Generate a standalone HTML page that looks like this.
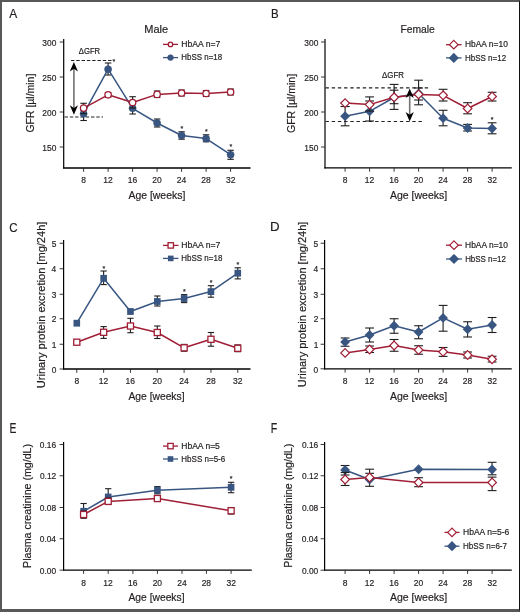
<!DOCTYPE html>
<html><head><meta charset="utf-8"><style>
html,body{margin:0;padding:0;background:#fff;}
body{width:520px;height:612px;overflow:hidden;position:relative;}
.fr{position:absolute;left:0;top:0;width:520px;height:612px;box-sizing:border-box;border-left:2px solid #585858;border-top:2px solid #585858;border-bottom:3px solid #585858;border-right:1px solid #111;}
svg{position:absolute;left:0;top:0;}
text{font-family:"Liberation Sans", sans-serif;fill:#231f20;stroke:#231f20;stroke-width:0.2px;}
svg{will-change:transform;}
</style></head><body>
<svg width="520" height="612" viewBox="0 0 520 612">
<text x="9.17" y="17.80" font-size="13.09" textLength="7.95" lengthAdjust="spacingAndGlyphs">A</text>
<text x="144.29" y="32.80" font-size="11.35" textLength="23.88" lengthAdjust="spacingAndGlyphs">Male</text>
<line x1="63.7" y1="39" x2="63.7" y2="168.6" stroke="#000" stroke-width="1.2"/>
<line x1="63.1" y1="168.0" x2="250.5" y2="168.0" stroke="#000" stroke-width="1.3"/>
<line x1="59.7" y1="42" x2="63.7" y2="42" stroke="#222" stroke-width="0.9"/>
<text x="42.33" y="45.70" font-size="9.75" textLength="13.99" lengthAdjust="spacingAndGlyphs">300</text>
<line x1="59.7" y1="77" x2="63.7" y2="77" stroke="#222" stroke-width="0.9"/>
<text x="42.33" y="80.70" font-size="9.75" textLength="13.99" lengthAdjust="spacingAndGlyphs">250</text>
<line x1="59.7" y1="112" x2="63.7" y2="112" stroke="#222" stroke-width="0.9"/>
<text x="42.33" y="115.70" font-size="9.75" textLength="13.99" lengthAdjust="spacingAndGlyphs">200</text>
<line x1="59.7" y1="147" x2="63.7" y2="147" stroke="#222" stroke-width="0.9"/>
<text x="42.33" y="150.70" font-size="9.75" textLength="13.99" lengthAdjust="spacingAndGlyphs">150</text>
<line x1="83.6" y1="168.0" x2="83.6" y2="171.8" stroke="#222" stroke-width="0.9"/>
<text x="81.24" y="183.30" font-size="9.89" textLength="4.73" lengthAdjust="spacingAndGlyphs">8</text>
<line x1="108.1" y1="168.0" x2="108.1" y2="171.8" stroke="#222" stroke-width="0.9"/>
<text x="103.27" y="183.30" font-size="9.89" textLength="9.46" lengthAdjust="spacingAndGlyphs">12</text>
<line x1="132.6" y1="168.0" x2="132.6" y2="171.8" stroke="#222" stroke-width="0.9"/>
<text x="127.74" y="183.30" font-size="9.89" textLength="9.46" lengthAdjust="spacingAndGlyphs">16</text>
<line x1="157.1" y1="168.0" x2="157.1" y2="171.8" stroke="#222" stroke-width="0.9"/>
<text x="152.33" y="183.30" font-size="9.89" textLength="9.46" lengthAdjust="spacingAndGlyphs">20</text>
<line x1="181.6" y1="168.0" x2="181.6" y2="171.8" stroke="#222" stroke-width="0.9"/>
<text x="176.78" y="183.30" font-size="9.89" textLength="9.46" lengthAdjust="spacingAndGlyphs">24</text>
<line x1="206.1" y1="168.0" x2="206.1" y2="171.8" stroke="#222" stroke-width="0.9"/>
<text x="201.35" y="183.30" font-size="9.89" textLength="9.46" lengthAdjust="spacingAndGlyphs">28</text>
<line x1="230.6" y1="168.0" x2="230.6" y2="171.8" stroke="#222" stroke-width="0.9"/>
<text x="225.93" y="183.30" font-size="9.89" textLength="9.46" lengthAdjust="spacingAndGlyphs">32</text>
<text x="128.47" y="198.90" font-size="11.20" textLength="56.86" lengthAdjust="spacingAndGlyphs">Age [weeks]</text>
<text x="0" y="0" transform="translate(33.90,132.52) rotate(-90)" font-size="11.35" textLength="58.85" lengthAdjust="spacingAndGlyphs">GFR [µl/min]</text>
<text x="78.77" y="54.10" font-size="8.44" textLength="21.39" lengthAdjust="spacingAndGlyphs">ΔGFR</text>
<line x1="71" y1="60.5" x2="113" y2="60.5" stroke="#222" stroke-width="1.1" stroke-dasharray="3.4 1.9"/>
<line x1="64.5" y1="117" x2="103" y2="117" stroke="#222" stroke-width="1.1" stroke-dasharray="3.4 1.9"/>
<text x="113.8" y="63.849999999999994" font-size="7" text-anchor="middle">*</text>
<line x1="73.9" y1="67.9" x2="73.9" y2="108.8" stroke="#727272" stroke-width="1.6"/>
<polygon points="73.9,61.9 78.0,71.4 73.9,68.7 69.80000000000001,71.4" fill="#000"/>
<polygon points="73.9,114.8 78.0,105.3 73.9,108.0 69.80000000000001,105.3" fill="#000"/>
<line x1="83.6" y1="110" x2="83.6" y2="120.5" stroke="#1e1e1e" stroke-width="1.1"/>
<line x1="80.35" y1="110" x2="86.85" y2="110" stroke="#1e1e1e" stroke-width="1.1"/>
<line x1="80.35" y1="120.5" x2="86.85" y2="120.5" stroke="#1e1e1e" stroke-width="1.1"/>
<line x1="108.1" y1="63" x2="108.1" y2="75" stroke="#1e1e1e" stroke-width="1.1"/>
<line x1="104.85" y1="63" x2="111.35" y2="63" stroke="#1e1e1e" stroke-width="1.1"/>
<line x1="104.85" y1="75" x2="111.35" y2="75" stroke="#1e1e1e" stroke-width="1.1"/>
<line x1="132.6" y1="102" x2="132.6" y2="114" stroke="#1e1e1e" stroke-width="1.1"/>
<line x1="129.35" y1="102" x2="135.85" y2="102" stroke="#1e1e1e" stroke-width="1.1"/>
<line x1="129.35" y1="114" x2="135.85" y2="114" stroke="#1e1e1e" stroke-width="1.1"/>
<line x1="157.1" y1="119" x2="157.1" y2="127" stroke="#1e1e1e" stroke-width="1.1"/>
<line x1="153.85" y1="119" x2="160.35" y2="119" stroke="#1e1e1e" stroke-width="1.1"/>
<line x1="153.85" y1="127" x2="160.35" y2="127" stroke="#1e1e1e" stroke-width="1.1"/>
<line x1="181.6" y1="131.8" x2="181.6" y2="139.2" stroke="#1e1e1e" stroke-width="1.1"/>
<line x1="178.35" y1="131.8" x2="184.85" y2="131.8" stroke="#1e1e1e" stroke-width="1.1"/>
<line x1="178.35" y1="139.2" x2="184.85" y2="139.2" stroke="#1e1e1e" stroke-width="1.1"/>
<line x1="206.1" y1="134.8" x2="206.1" y2="141.8" stroke="#1e1e1e" stroke-width="1.1"/>
<line x1="202.85" y1="134.8" x2="209.35" y2="134.8" stroke="#1e1e1e" stroke-width="1.1"/>
<line x1="202.85" y1="141.8" x2="209.35" y2="141.8" stroke="#1e1e1e" stroke-width="1.1"/>
<line x1="230.6" y1="150.3" x2="230.6" y2="159.3" stroke="#1e1e1e" stroke-width="1.1"/>
<line x1="227.35" y1="150.3" x2="233.85" y2="150.3" stroke="#1e1e1e" stroke-width="1.1"/>
<line x1="227.35" y1="159.3" x2="233.85" y2="159.3" stroke="#1e1e1e" stroke-width="1.1"/>
<polyline points="83.6,113.8 108.1,69.2 132.6,108.3 157.1,123 181.6,135.5 206.1,138.6 230.6,154.7" fill="none" stroke="#385681" stroke-width="1.5" stroke-linejoin="round"/>
<circle cx="83.6" cy="113.8" r="3.55" fill="#385681" stroke="#304a72" stroke-width="0.5"/>
<circle cx="108.1" cy="69.2" r="3.55" fill="#385681" stroke="#304a72" stroke-width="0.5"/>
<circle cx="132.6" cy="108.3" r="3.55" fill="#385681" stroke="#304a72" stroke-width="0.5"/>
<circle cx="157.1" cy="123" r="3.55" fill="#385681" stroke="#304a72" stroke-width="0.5"/>
<circle cx="181.6" cy="135.5" r="3.55" fill="#385681" stroke="#304a72" stroke-width="0.5"/>
<circle cx="206.1" cy="138.6" r="3.55" fill="#385681" stroke="#304a72" stroke-width="0.5"/>
<circle cx="230.6" cy="154.7" r="3.55" fill="#385681" stroke="#304a72" stroke-width="0.5"/>
<line x1="83.6" y1="103.3" x2="83.6" y2="113.6" stroke="#1e1e1e" stroke-width="1.1"/>
<line x1="80.35" y1="103.3" x2="86.85" y2="103.3" stroke="#1e1e1e" stroke-width="1.1"/>
<line x1="80.35" y1="113.6" x2="86.85" y2="113.6" stroke="#1e1e1e" stroke-width="1.1"/>
<line x1="108.1" y1="92.5" x2="108.1" y2="97" stroke="#1e1e1e" stroke-width="1.1"/>
<line x1="104.85" y1="92.5" x2="111.35" y2="92.5" stroke="#1e1e1e" stroke-width="1.1"/>
<line x1="104.85" y1="97" x2="111.35" y2="97" stroke="#1e1e1e" stroke-width="1.1"/>
<line x1="132.6" y1="96.7" x2="132.6" y2="108" stroke="#1e1e1e" stroke-width="1.1"/>
<line x1="129.35" y1="96.7" x2="135.85" y2="96.7" stroke="#1e1e1e" stroke-width="1.1"/>
<line x1="129.35" y1="108" x2="135.85" y2="108" stroke="#1e1e1e" stroke-width="1.1"/>
<line x1="157.1" y1="91" x2="157.1" y2="97.5" stroke="#1e1e1e" stroke-width="1.1"/>
<line x1="153.85" y1="91" x2="160.35" y2="91" stroke="#1e1e1e" stroke-width="1.1"/>
<line x1="153.85" y1="97.5" x2="160.35" y2="97.5" stroke="#1e1e1e" stroke-width="1.1"/>
<line x1="181.6" y1="90" x2="181.6" y2="96" stroke="#1e1e1e" stroke-width="1.1"/>
<line x1="178.35" y1="90" x2="184.85" y2="90" stroke="#1e1e1e" stroke-width="1.1"/>
<line x1="178.35" y1="96" x2="184.85" y2="96" stroke="#1e1e1e" stroke-width="1.1"/>
<line x1="206.1" y1="90.5" x2="206.1" y2="96.5" stroke="#1e1e1e" stroke-width="1.1"/>
<line x1="202.85" y1="90.5" x2="209.35" y2="90.5" stroke="#1e1e1e" stroke-width="1.1"/>
<line x1="202.85" y1="96.5" x2="209.35" y2="96.5" stroke="#1e1e1e" stroke-width="1.1"/>
<line x1="230.6" y1="89" x2="230.6" y2="95" stroke="#1e1e1e" stroke-width="1.1"/>
<line x1="227.35" y1="89" x2="233.85" y2="89" stroke="#1e1e1e" stroke-width="1.1"/>
<line x1="227.35" y1="95" x2="233.85" y2="95" stroke="#1e1e1e" stroke-width="1.1"/>
<polyline points="83.6,108.1 108.1,94.8 132.6,102.5 157.1,94.4 181.6,93 206.1,93.5 230.6,92" fill="none" stroke="#a01f36" stroke-width="1.5" stroke-linejoin="round"/>
<circle cx="83.6" cy="108.1" r="3.2" fill="#fff" stroke="#a01f36" stroke-width="1.3"/>
<circle cx="108.1" cy="94.8" r="3.2" fill="#fff" stroke="#a01f36" stroke-width="1.3"/>
<circle cx="132.6" cy="102.5" r="3.2" fill="#fff" stroke="#a01f36" stroke-width="1.3"/>
<circle cx="157.1" cy="94.4" r="3.2" fill="#fff" stroke="#a01f36" stroke-width="1.3"/>
<circle cx="181.6" cy="93" r="3.2" fill="#fff" stroke="#a01f36" stroke-width="1.3"/>
<circle cx="206.1" cy="93.5" r="3.2" fill="#fff" stroke="#a01f36" stroke-width="1.3"/>
<circle cx="230.6" cy="92" r="3.2" fill="#fff" stroke="#a01f36" stroke-width="1.3"/>
<text x="181.8" y="130.95000000000002" font-size="7" text-anchor="middle">*</text>
<text x="206.3" y="133.55" font-size="7" text-anchor="middle">*</text>
<text x="230.8" y="149.35000000000002" font-size="7" text-anchor="middle">*</text>
<line x1="163" y1="44.4" x2="178" y2="44.4" stroke="#a01f36" stroke-width="1.3"/>
<circle cx="170.5" cy="44.4" r="2.2" fill="#fff" stroke="#a01f36" stroke-width="1.3"/>
<line x1="163" y1="57.6" x2="178" y2="57.6" stroke="#385681" stroke-width="1.3"/>
<circle cx="170.5" cy="57.6" r="2.9" fill="#385681" stroke="#304a72" stroke-width="0.5"/>
<text x="181.29" y="46.80" font-size="8.73" textLength="38.95" lengthAdjust="spacingAndGlyphs">HbAA n=7</text>
<text x="181.35" y="59.60" font-size="8.73" textLength="40.74" lengthAdjust="spacingAndGlyphs">HbSS n=18</text>
<text x="270.95" y="17.80" font-size="13.09" textLength="7.64" lengthAdjust="spacingAndGlyphs">B</text>
<text x="400.40" y="33.00" font-size="11.64" textLength="34.46" lengthAdjust="spacingAndGlyphs">Female</text>
<line x1="325" y1="39" x2="325" y2="168.5" stroke="#000" stroke-width="1.2"/>
<line x1="324.4" y1="167.9" x2="511.75" y2="167.9" stroke="#000" stroke-width="1.3"/>
<line x1="321" y1="42" x2="325" y2="42" stroke="#222" stroke-width="0.9"/>
<text x="304.33" y="45.70" font-size="9.75" textLength="13.99" lengthAdjust="spacingAndGlyphs">300</text>
<line x1="321" y1="77" x2="325" y2="77" stroke="#222" stroke-width="0.9"/>
<text x="304.33" y="80.70" font-size="9.75" textLength="13.99" lengthAdjust="spacingAndGlyphs">250</text>
<line x1="321" y1="112" x2="325" y2="112" stroke="#222" stroke-width="0.9"/>
<text x="304.33" y="115.70" font-size="9.75" textLength="13.99" lengthAdjust="spacingAndGlyphs">200</text>
<line x1="321" y1="147" x2="325" y2="147" stroke="#222" stroke-width="0.9"/>
<text x="304.33" y="150.70" font-size="9.75" textLength="13.99" lengthAdjust="spacingAndGlyphs">150</text>
<line x1="345.1" y1="167.9" x2="345.1" y2="171.70000000000002" stroke="#222" stroke-width="0.9"/>
<text x="342.74" y="183.30" font-size="9.89" textLength="4.73" lengthAdjust="spacingAndGlyphs">8</text>
<line x1="369.6" y1="167.9" x2="369.6" y2="171.70000000000002" stroke="#222" stroke-width="0.9"/>
<text x="364.77" y="183.30" font-size="9.89" textLength="9.46" lengthAdjust="spacingAndGlyphs">12</text>
<line x1="394.1" y1="167.9" x2="394.1" y2="171.70000000000002" stroke="#222" stroke-width="0.9"/>
<text x="389.24" y="183.30" font-size="9.89" textLength="9.46" lengthAdjust="spacingAndGlyphs">16</text>
<line x1="418.6" y1="167.9" x2="418.6" y2="171.70000000000002" stroke="#222" stroke-width="0.9"/>
<text x="413.83" y="183.30" font-size="9.89" textLength="9.46" lengthAdjust="spacingAndGlyphs">20</text>
<line x1="443.1" y1="167.9" x2="443.1" y2="171.70000000000002" stroke="#222" stroke-width="0.9"/>
<text x="438.28" y="183.30" font-size="9.89" textLength="9.46" lengthAdjust="spacingAndGlyphs">24</text>
<line x1="467.6" y1="167.9" x2="467.6" y2="171.70000000000002" stroke="#222" stroke-width="0.9"/>
<text x="462.85" y="183.30" font-size="9.89" textLength="9.46" lengthAdjust="spacingAndGlyphs">28</text>
<line x1="492.1" y1="167.9" x2="492.1" y2="171.70000000000002" stroke="#222" stroke-width="0.9"/>
<text x="487.43" y="183.30" font-size="9.89" textLength="9.46" lengthAdjust="spacingAndGlyphs">32</text>
<text x="389.97" y="199.20" font-size="11.20" textLength="57.26" lengthAdjust="spacingAndGlyphs">Age [weeks]</text>
<text x="0" y="0" transform="translate(294.60,133.03) rotate(-90)" font-size="11.78" textLength="59.16" lengthAdjust="spacingAndGlyphs">GFR [µl/min]</text>
<text x="382.06" y="78.00" font-size="8.29" textLength="21.80" lengthAdjust="spacingAndGlyphs">ΔGFR</text>
<line x1="325.5" y1="87.9" x2="429.5" y2="87.9" stroke="#222" stroke-width="1.1" stroke-dasharray="3.4 2.8"/>
<line x1="325.5" y1="121.5" x2="423" y2="121.5" stroke="#222" stroke-width="1.1" stroke-dasharray="3.4 2.8"/>
<line x1="345.1" y1="106.5" x2="345.1" y2="125.8" stroke="#1e1e1e" stroke-width="1.1"/>
<line x1="340.70000000000005" y1="106.5" x2="349.5" y2="106.5" stroke="#1e1e1e" stroke-width="1.1"/>
<line x1="340.70000000000005" y1="125.8" x2="349.5" y2="125.8" stroke="#1e1e1e" stroke-width="1.1"/>
<line x1="369.6" y1="101" x2="369.6" y2="121" stroke="#1e1e1e" stroke-width="1.1"/>
<line x1="365.20000000000005" y1="101" x2="374.0" y2="101" stroke="#1e1e1e" stroke-width="1.1"/>
<line x1="365.20000000000005" y1="121" x2="374.0" y2="121" stroke="#1e1e1e" stroke-width="1.1"/>
<line x1="394.1" y1="84.4" x2="394.1" y2="109.4" stroke="#1e1e1e" stroke-width="1.1"/>
<line x1="389.70000000000005" y1="84.4" x2="398.5" y2="84.4" stroke="#1e1e1e" stroke-width="1.1"/>
<line x1="389.70000000000005" y1="109.4" x2="398.5" y2="109.4" stroke="#1e1e1e" stroke-width="1.1"/>
<line x1="418.6" y1="80.2" x2="418.6" y2="104.8" stroke="#1e1e1e" stroke-width="1.1"/>
<line x1="414.20000000000005" y1="80.2" x2="423.0" y2="80.2" stroke="#1e1e1e" stroke-width="1.1"/>
<line x1="414.20000000000005" y1="104.8" x2="423.0" y2="104.8" stroke="#1e1e1e" stroke-width="1.1"/>
<line x1="443.1" y1="110.3" x2="443.1" y2="125.8" stroke="#1e1e1e" stroke-width="1.1"/>
<line x1="438.70000000000005" y1="110.3" x2="447.5" y2="110.3" stroke="#1e1e1e" stroke-width="1.1"/>
<line x1="438.70000000000005" y1="125.8" x2="447.5" y2="125.8" stroke="#1e1e1e" stroke-width="1.1"/>
<line x1="467.6" y1="124.4" x2="467.6" y2="131" stroke="#1e1e1e" stroke-width="1.1"/>
<line x1="463.20000000000005" y1="124.4" x2="472.0" y2="124.4" stroke="#1e1e1e" stroke-width="1.1"/>
<line x1="463.20000000000005" y1="131" x2="472.0" y2="131" stroke="#1e1e1e" stroke-width="1.1"/>
<line x1="492.1" y1="122.8" x2="492.1" y2="133.8" stroke="#1e1e1e" stroke-width="1.1"/>
<line x1="487.70000000000005" y1="122.8" x2="496.5" y2="122.8" stroke="#1e1e1e" stroke-width="1.1"/>
<line x1="487.70000000000005" y1="133.8" x2="496.5" y2="133.8" stroke="#1e1e1e" stroke-width="1.1"/>
<polyline points="345.1,116.2 369.6,111.3 394.1,97.5 418.6,93.5 443.1,118.2 467.6,128 492.1,128.5" fill="none" stroke="#385681" stroke-width="1.5" stroke-linejoin="round"/>
<polygon points="345.1,111.3 350.0,116.2 345.1,121.10000000000001 340.20000000000005,116.2" fill="#385681"/>
<polygon points="369.6,106.39999999999999 374.5,111.3 369.6,116.2 364.70000000000005,111.3" fill="#385681"/>
<polygon points="394.1,92.6 399.0,97.5 394.1,102.4 389.20000000000005,97.5" fill="#385681"/>
<polygon points="418.6,88.6 423.5,93.5 418.6,98.4 413.70000000000005,93.5" fill="#385681"/>
<polygon points="443.1,113.3 448.0,118.2 443.1,123.10000000000001 438.20000000000005,118.2" fill="#385681"/>
<polygon points="467.6,123.1 472.5,128 467.6,132.9 462.70000000000005,128" fill="#385681"/>
<polygon points="492.1,123.6 497.0,128.5 492.1,133.4 487.20000000000005,128.5" fill="#385681"/>
<line x1="345.1" y1="103.1" x2="345.1" y2="106.5" stroke="#1e1e1e" stroke-width="1.1"/>
<line x1="340.70000000000005" y1="103.1" x2="349.5" y2="103.1" stroke="#1e1e1e" stroke-width="1.1"/>
<line x1="340.70000000000005" y1="106.5" x2="349.5" y2="106.5" stroke="#1e1e1e" stroke-width="1.1"/>
<line x1="369.6" y1="96.9" x2="369.6" y2="111" stroke="#1e1e1e" stroke-width="1.1"/>
<line x1="365.20000000000005" y1="96.9" x2="374.0" y2="96.9" stroke="#1e1e1e" stroke-width="1.1"/>
<line x1="365.20000000000005" y1="111" x2="374.0" y2="111" stroke="#1e1e1e" stroke-width="1.1"/>
<line x1="394.1" y1="90.2" x2="394.1" y2="103.7" stroke="#1e1e1e" stroke-width="1.1"/>
<line x1="389.70000000000005" y1="90.2" x2="398.5" y2="90.2" stroke="#1e1e1e" stroke-width="1.1"/>
<line x1="389.70000000000005" y1="103.7" x2="398.5" y2="103.7" stroke="#1e1e1e" stroke-width="1.1"/>
<line x1="418.6" y1="88" x2="418.6" y2="100" stroke="#1e1e1e" stroke-width="1.1"/>
<line x1="414.20000000000005" y1="88" x2="423.0" y2="88" stroke="#1e1e1e" stroke-width="1.1"/>
<line x1="414.20000000000005" y1="100" x2="423.0" y2="100" stroke="#1e1e1e" stroke-width="1.1"/>
<line x1="443.1" y1="89.3" x2="443.1" y2="101" stroke="#1e1e1e" stroke-width="1.1"/>
<line x1="438.70000000000005" y1="89.3" x2="447.5" y2="89.3" stroke="#1e1e1e" stroke-width="1.1"/>
<line x1="438.70000000000005" y1="101" x2="447.5" y2="101" stroke="#1e1e1e" stroke-width="1.1"/>
<line x1="467.6" y1="102.7" x2="467.6" y2="113.8" stroke="#1e1e1e" stroke-width="1.1"/>
<line x1="463.20000000000005" y1="102.7" x2="472.0" y2="102.7" stroke="#1e1e1e" stroke-width="1.1"/>
<line x1="463.20000000000005" y1="113.8" x2="472.0" y2="113.8" stroke="#1e1e1e" stroke-width="1.1"/>
<line x1="492.1" y1="92.3" x2="492.1" y2="101" stroke="#1e1e1e" stroke-width="1.1"/>
<line x1="487.70000000000005" y1="92.3" x2="496.5" y2="92.3" stroke="#1e1e1e" stroke-width="1.1"/>
<line x1="487.70000000000005" y1="101" x2="496.5" y2="101" stroke="#1e1e1e" stroke-width="1.1"/>
<polyline points="345.1,103.1 369.6,104.6 394.1,97.3 418.6,94.4 443.1,95.3 467.6,108.5 492.1,96.5" fill="none" stroke="#a01f36" stroke-width="1.5" stroke-linejoin="round"/>
<polygon points="345.1,98.8 349.40000000000003,103.1 345.1,107.39999999999999 340.8,103.1" fill="#fff" stroke="#a01f36" stroke-width="1.2"/>
<polygon points="369.6,100.3 373.90000000000003,104.6 369.6,108.89999999999999 365.3,104.6" fill="#fff" stroke="#a01f36" stroke-width="1.2"/>
<polygon points="394.1,93.0 398.40000000000003,97.3 394.1,101.6 389.8,97.3" fill="#fff" stroke="#a01f36" stroke-width="1.2"/>
<polygon points="418.6,90.10000000000001 422.90000000000003,94.4 418.6,98.7 414.3,94.4" fill="#fff" stroke="#a01f36" stroke-width="1.2"/>
<polygon points="443.1,91.0 447.40000000000003,95.3 443.1,99.6 438.8,95.3" fill="#fff" stroke="#a01f36" stroke-width="1.2"/>
<polygon points="467.6,104.2 471.90000000000003,108.5 467.6,112.8 463.3,108.5" fill="#fff" stroke="#a01f36" stroke-width="1.2"/>
<polygon points="492.1,92.2 496.40000000000003,96.5 492.1,100.8 487.8,96.5" fill="#fff" stroke="#a01f36" stroke-width="1.2"/>
<line x1="409.7" y1="94.5" x2="409.7" y2="115.5" stroke="#727272" stroke-width="1.6"/>
<polygon points="409.7,88.5 413.8,98.0 409.7,95.3 405.59999999999997,98.0" fill="#000"/>
<polygon points="409.7,121.5 413.8,112.0 409.7,114.7 405.59999999999997,112.0" fill="#000"/>
<text x="492" y="121.55" font-size="7" text-anchor="middle">*</text>
<line x1="446" y1="44.7" x2="461.6" y2="44.7" stroke="#a01f36" stroke-width="1.3"/>
<polygon points="453.8,40.400000000000006 458.1,44.7 453.8,49.0 449.5,44.7" fill="#fff" stroke="#a01f36" stroke-width="1.2"/>
<line x1="446" y1="57.9" x2="461.6" y2="57.9" stroke="#385681" stroke-width="1.3"/>
<polygon points="453.8,52.8 458.90000000000003,57.9 453.8,63.0 448.7,57.9" fill="#385681"/>
<text x="465.01" y="47.30" font-size="8.73" textLength="42.81" lengthAdjust="spacingAndGlyphs">HbAA n=10</text>
<text x="465.04" y="60.50" font-size="8.73" textLength="41.06" lengthAdjust="spacingAndGlyphs">HbSS n=12</text>
<text x="9.23" y="231.60" font-size="13.67" textLength="8.30" lengthAdjust="spacingAndGlyphs">C</text>
<line x1="63.6" y1="240" x2="63.6" y2="369.6" stroke="#000" stroke-width="1.2"/>
<line x1="63.0" y1="369" x2="250.5" y2="369" stroke="#000" stroke-width="1.3"/>
<line x1="59.6" y1="243.25" x2="63.6" y2="243.25" stroke="#222" stroke-width="0.9"/>
<text x="51.68" y="246.95" font-size="9.75" textLength="4.66" lengthAdjust="spacingAndGlyphs">5</text>
<line x1="59.6" y1="268.75" x2="63.6" y2="268.75" stroke="#222" stroke-width="0.9"/>
<text x="51.58" y="272.45" font-size="9.75" textLength="4.66" lengthAdjust="spacingAndGlyphs">4</text>
<line x1="59.6" y1="294.25" x2="63.6" y2="294.25" stroke="#222" stroke-width="0.9"/>
<text x="51.70" y="297.95" font-size="9.75" textLength="4.66" lengthAdjust="spacingAndGlyphs">3</text>
<line x1="59.6" y1="318.75" x2="63.6" y2="318.75" stroke="#222" stroke-width="0.9"/>
<text x="51.77" y="322.45" font-size="9.75" textLength="4.66" lengthAdjust="spacingAndGlyphs">2</text>
<line x1="59.6" y1="344.25" x2="63.6" y2="344.25" stroke="#222" stroke-width="0.9"/>
<text x="51.75" y="347.95" font-size="9.75" textLength="4.66" lengthAdjust="spacingAndGlyphs">1</text>
<line x1="59.6" y1="369" x2="63.6" y2="369" stroke="#222" stroke-width="0.9"/>
<text x="51.66" y="372.70" font-size="9.75" textLength="4.66" lengthAdjust="spacingAndGlyphs">0</text>
<line x1="76.8" y1="369" x2="76.8" y2="372.8" stroke="#222" stroke-width="0.9"/>
<text x="74.44" y="384.30" font-size="9.89" textLength="4.73" lengthAdjust="spacingAndGlyphs">8</text>
<line x1="103.63" y1="369" x2="103.63" y2="372.8" stroke="#222" stroke-width="0.9"/>
<text x="98.80" y="384.30" font-size="9.89" textLength="9.46" lengthAdjust="spacingAndGlyphs">12</text>
<line x1="130.46" y1="369" x2="130.46" y2="372.8" stroke="#222" stroke-width="0.9"/>
<text x="125.60" y="384.30" font-size="9.89" textLength="9.46" lengthAdjust="spacingAndGlyphs">16</text>
<line x1="157.29" y1="369" x2="157.29" y2="372.8" stroke="#222" stroke-width="0.9"/>
<text x="152.52" y="384.30" font-size="9.89" textLength="9.46" lengthAdjust="spacingAndGlyphs">20</text>
<line x1="184.12" y1="369" x2="184.12" y2="372.8" stroke="#222" stroke-width="0.9"/>
<text x="179.30" y="384.30" font-size="9.89" textLength="9.46" lengthAdjust="spacingAndGlyphs">24</text>
<line x1="210.95" y1="369" x2="210.95" y2="372.8" stroke="#222" stroke-width="0.9"/>
<text x="206.20" y="384.30" font-size="9.89" textLength="9.46" lengthAdjust="spacingAndGlyphs">28</text>
<line x1="237.78" y1="369" x2="237.78" y2="372.8" stroke="#222" stroke-width="0.9"/>
<text x="233.11" y="384.30" font-size="9.89" textLength="9.46" lengthAdjust="spacingAndGlyphs">32</text>
<text x="128.47" y="399.60" font-size="11.20" textLength="56.05" lengthAdjust="spacingAndGlyphs">Age [weeks]</text>
<text x="0" y="0" transform="translate(44.60,388.16) rotate(-90)" font-size="11.49" textLength="166.54" lengthAdjust="spacingAndGlyphs">Urinary protein excretion [mg/24h]</text>
<line x1="103.63" y1="271" x2="103.63" y2="284.6" stroke="#1e1e1e" stroke-width="1.1"/>
<line x1="100.47999999999999" y1="271" x2="106.78" y2="271" stroke="#1e1e1e" stroke-width="1.1"/>
<line x1="100.47999999999999" y1="284.6" x2="106.78" y2="284.6" stroke="#1e1e1e" stroke-width="1.1"/>
<line x1="157.29" y1="296" x2="157.29" y2="306" stroke="#1e1e1e" stroke-width="1.1"/>
<line x1="154.14" y1="296" x2="160.44" y2="296" stroke="#1e1e1e" stroke-width="1.1"/>
<line x1="154.14" y1="306" x2="160.44" y2="306" stroke="#1e1e1e" stroke-width="1.1"/>
<line x1="184.12" y1="294.6" x2="184.12" y2="302.6" stroke="#1e1e1e" stroke-width="1.1"/>
<line x1="180.97" y1="294.6" x2="187.27" y2="294.6" stroke="#1e1e1e" stroke-width="1.1"/>
<line x1="180.97" y1="302.6" x2="187.27" y2="302.6" stroke="#1e1e1e" stroke-width="1.1"/>
<line x1="210.95" y1="285.7" x2="210.95" y2="297.2" stroke="#1e1e1e" stroke-width="1.1"/>
<line x1="207.79999999999998" y1="285.7" x2="214.1" y2="285.7" stroke="#1e1e1e" stroke-width="1.1"/>
<line x1="207.79999999999998" y1="297.2" x2="214.1" y2="297.2" stroke="#1e1e1e" stroke-width="1.1"/>
<line x1="237.78" y1="267.8" x2="237.78" y2="278.9" stroke="#1e1e1e" stroke-width="1.1"/>
<line x1="234.63" y1="267.8" x2="240.93" y2="267.8" stroke="#1e1e1e" stroke-width="1.1"/>
<line x1="234.63" y1="278.9" x2="240.93" y2="278.9" stroke="#1e1e1e" stroke-width="1.1"/>
<polyline points="76.8,323.2 103.63,278.3 130.46,311.5 157.29,301.5 184.12,298.5 210.95,291.6 237.78,273.2" fill="none" stroke="#385681" stroke-width="1.5" stroke-linejoin="round"/>
<rect x="73.5" y="319.8" width="6.6" height="6.8" fill="#385681"/>
<rect x="100.33" y="274.90000000000003" width="6.6" height="6.8" fill="#385681"/>
<rect x="127.16000000000001" y="308.1" width="6.6" height="6.8" fill="#385681"/>
<rect x="153.98999999999998" y="298.1" width="6.6" height="6.8" fill="#385681"/>
<rect x="180.82" y="295.1" width="6.6" height="6.8" fill="#385681"/>
<rect x="207.64999999999998" y="288.20000000000005" width="6.6" height="6.8" fill="#385681"/>
<rect x="234.48" y="269.8" width="6.6" height="6.8" fill="#385681"/>
<line x1="103.63" y1="326.6" x2="103.63" y2="338.4" stroke="#1e1e1e" stroke-width="1.1"/>
<line x1="100.47999999999999" y1="326.6" x2="106.78" y2="326.6" stroke="#1e1e1e" stroke-width="1.1"/>
<line x1="100.47999999999999" y1="338.4" x2="106.78" y2="338.4" stroke="#1e1e1e" stroke-width="1.1"/>
<line x1="130.46" y1="318.3" x2="130.46" y2="332.7" stroke="#1e1e1e" stroke-width="1.1"/>
<line x1="127.31" y1="318.3" x2="133.61" y2="318.3" stroke="#1e1e1e" stroke-width="1.1"/>
<line x1="127.31" y1="332.7" x2="133.61" y2="332.7" stroke="#1e1e1e" stroke-width="1.1"/>
<line x1="157.29" y1="326" x2="157.29" y2="338.5" stroke="#1e1e1e" stroke-width="1.1"/>
<line x1="154.14" y1="326" x2="160.44" y2="326" stroke="#1e1e1e" stroke-width="1.1"/>
<line x1="154.14" y1="338.5" x2="160.44" y2="338.5" stroke="#1e1e1e" stroke-width="1.1"/>
<line x1="184.12" y1="344.4" x2="184.12" y2="351.2" stroke="#1e1e1e" stroke-width="1.1"/>
<line x1="180.97" y1="344.4" x2="187.27" y2="344.4" stroke="#1e1e1e" stroke-width="1.1"/>
<line x1="180.97" y1="351.2" x2="187.27" y2="351.2" stroke="#1e1e1e" stroke-width="1.1"/>
<line x1="210.95" y1="332.5" x2="210.95" y2="346.2" stroke="#1e1e1e" stroke-width="1.1"/>
<line x1="207.79999999999998" y1="332.5" x2="214.1" y2="332.5" stroke="#1e1e1e" stroke-width="1.1"/>
<line x1="207.79999999999998" y1="346.2" x2="214.1" y2="346.2" stroke="#1e1e1e" stroke-width="1.1"/>
<line x1="237.78" y1="344.9" x2="237.78" y2="351.7" stroke="#1e1e1e" stroke-width="1.1"/>
<line x1="234.63" y1="344.9" x2="240.93" y2="344.9" stroke="#1e1e1e" stroke-width="1.1"/>
<line x1="234.63" y1="351.7" x2="240.93" y2="351.7" stroke="#1e1e1e" stroke-width="1.1"/>
<polyline points="76.8,342.2 103.63,332.3 130.46,326 157.29,332.5 184.12,347.8 210.95,339.3 237.78,348.3" fill="none" stroke="#a01f36" stroke-width="1.5" stroke-linejoin="round"/>
<rect x="73.75" y="339.15" width="6.1" height="6.1" fill="#fff" stroke="#a01f36" stroke-width="1.3"/>
<rect x="100.58" y="329.25" width="6.1" height="6.1" fill="#fff" stroke="#a01f36" stroke-width="1.3"/>
<rect x="127.41000000000001" y="322.95" width="6.1" height="6.1" fill="#fff" stroke="#a01f36" stroke-width="1.3"/>
<rect x="154.23999999999998" y="329.45" width="6.1" height="6.1" fill="#fff" stroke="#a01f36" stroke-width="1.3"/>
<rect x="181.07" y="344.75" width="6.1" height="6.1" fill="#fff" stroke="#a01f36" stroke-width="1.3"/>
<rect x="207.89999999999998" y="336.25" width="6.1" height="6.1" fill="#fff" stroke="#a01f36" stroke-width="1.3"/>
<rect x="234.73" y="345.25" width="6.1" height="6.1" fill="#fff" stroke="#a01f36" stroke-width="1.3"/>
<text x="103.8" y="270.55" font-size="7" text-anchor="middle">*</text>
<text x="184.25" y="293.55" font-size="7" text-anchor="middle">*</text>
<text x="211" y="284.85" font-size="7" text-anchor="middle">*</text>
<text x="237.75" y="266.95" font-size="7" text-anchor="middle">*</text>
<line x1="163" y1="245.4" x2="178.5" y2="245.4" stroke="#a01f36" stroke-width="1.3"/>
<rect x="168.05" y="242.70000000000002" width="5.4" height="5.4" fill="#fff" stroke="#a01f36" stroke-width="1.3"/>
<line x1="163" y1="258.4" x2="178.5" y2="258.4" stroke="#385681" stroke-width="1.3"/>
<rect x="167.95" y="255.59999999999997" width="5.6" height="5.6" fill="#385681"/>
<text x="181.29" y="248.10" font-size="8.73" textLength="38.95" lengthAdjust="spacingAndGlyphs">HbAA n=7</text>
<text x="181.34" y="261.10" font-size="8.73" textLength="41.00" lengthAdjust="spacingAndGlyphs">HbSS n=18</text>
<text x="270.00" y="231.40" font-size="13.38" textLength="9.63" lengthAdjust="spacingAndGlyphs">D</text>
<line x1="324.6" y1="240" x2="324.6" y2="369.40000000000003" stroke="#000" stroke-width="1.2"/>
<line x1="324.0" y1="368.8" x2="511.75" y2="368.8" stroke="#000" stroke-width="1.3"/>
<line x1="320.6" y1="243.25" x2="324.6" y2="243.25" stroke="#222" stroke-width="0.9"/>
<text x="313.58" y="246.95" font-size="9.75" textLength="4.66" lengthAdjust="spacingAndGlyphs">5</text>
<line x1="320.6" y1="268.75" x2="324.6" y2="268.75" stroke="#222" stroke-width="0.9"/>
<text x="313.48" y="272.45" font-size="9.75" textLength="4.66" lengthAdjust="spacingAndGlyphs">4</text>
<line x1="320.6" y1="294.25" x2="324.6" y2="294.25" stroke="#222" stroke-width="0.9"/>
<text x="313.60" y="297.95" font-size="9.75" textLength="4.66" lengthAdjust="spacingAndGlyphs">3</text>
<line x1="320.6" y1="318.75" x2="324.6" y2="318.75" stroke="#222" stroke-width="0.9"/>
<text x="313.67" y="322.45" font-size="9.75" textLength="4.66" lengthAdjust="spacingAndGlyphs">2</text>
<line x1="320.6" y1="344.25" x2="324.6" y2="344.25" stroke="#222" stroke-width="0.9"/>
<text x="313.65" y="347.95" font-size="9.75" textLength="4.66" lengthAdjust="spacingAndGlyphs">1</text>
<line x1="320.6" y1="368.8" x2="324.6" y2="368.8" stroke="#222" stroke-width="0.9"/>
<text x="313.56" y="372.50" font-size="9.75" textLength="4.66" lengthAdjust="spacingAndGlyphs">0</text>
<line x1="345.1" y1="368.8" x2="345.1" y2="372.6" stroke="#222" stroke-width="0.9"/>
<text x="342.74" y="384.30" font-size="9.89" textLength="4.73" lengthAdjust="spacingAndGlyphs">8</text>
<line x1="369.6" y1="368.8" x2="369.6" y2="372.6" stroke="#222" stroke-width="0.9"/>
<text x="364.77" y="384.30" font-size="9.89" textLength="9.46" lengthAdjust="spacingAndGlyphs">12</text>
<line x1="394.1" y1="368.8" x2="394.1" y2="372.6" stroke="#222" stroke-width="0.9"/>
<text x="389.24" y="384.30" font-size="9.89" textLength="9.46" lengthAdjust="spacingAndGlyphs">16</text>
<line x1="418.6" y1="368.8" x2="418.6" y2="372.6" stroke="#222" stroke-width="0.9"/>
<text x="413.83" y="384.30" font-size="9.89" textLength="9.46" lengthAdjust="spacingAndGlyphs">20</text>
<line x1="443.1" y1="368.8" x2="443.1" y2="372.6" stroke="#222" stroke-width="0.9"/>
<text x="438.28" y="384.30" font-size="9.89" textLength="9.46" lengthAdjust="spacingAndGlyphs">24</text>
<line x1="467.6" y1="368.8" x2="467.6" y2="372.6" stroke="#222" stroke-width="0.9"/>
<text x="462.85" y="384.30" font-size="9.89" textLength="9.46" lengthAdjust="spacingAndGlyphs">28</text>
<line x1="492.1" y1="368.8" x2="492.1" y2="372.6" stroke="#222" stroke-width="0.9"/>
<text x="487.43" y="384.30" font-size="9.89" textLength="9.46" lengthAdjust="spacingAndGlyphs">32</text>
<text x="389.97" y="399.60" font-size="11.20" textLength="57.26" lengthAdjust="spacingAndGlyphs">Age [weeks]</text>
<text x="0" y="0" transform="translate(306.00,387.25) rotate(-90)" font-size="11.64" textLength="165.63" lengthAdjust="spacingAndGlyphs">Urinary protein excretion [mg/24h]</text>
<line x1="345.1" y1="338" x2="345.1" y2="346.25" stroke="#1e1e1e" stroke-width="1.1"/>
<line x1="340.70000000000005" y1="338" x2="349.5" y2="338" stroke="#1e1e1e" stroke-width="1.1"/>
<line x1="340.70000000000005" y1="346.25" x2="349.5" y2="346.25" stroke="#1e1e1e" stroke-width="1.1"/>
<line x1="369.6" y1="328" x2="369.6" y2="342" stroke="#1e1e1e" stroke-width="1.1"/>
<line x1="365.20000000000005" y1="328" x2="374.0" y2="328" stroke="#1e1e1e" stroke-width="1.1"/>
<line x1="365.20000000000005" y1="342" x2="374.0" y2="342" stroke="#1e1e1e" stroke-width="1.1"/>
<line x1="394.1" y1="318.75" x2="394.1" y2="333.25" stroke="#1e1e1e" stroke-width="1.1"/>
<line x1="389.70000000000005" y1="318.75" x2="398.5" y2="318.75" stroke="#1e1e1e" stroke-width="1.1"/>
<line x1="389.70000000000005" y1="333.25" x2="398.5" y2="333.25" stroke="#1e1e1e" stroke-width="1.1"/>
<line x1="418.6" y1="325.75" x2="418.6" y2="338.75" stroke="#1e1e1e" stroke-width="1.1"/>
<line x1="414.20000000000005" y1="325.75" x2="423.0" y2="325.75" stroke="#1e1e1e" stroke-width="1.1"/>
<line x1="414.20000000000005" y1="338.75" x2="423.0" y2="338.75" stroke="#1e1e1e" stroke-width="1.1"/>
<line x1="443.1" y1="305.4" x2="443.1" y2="331.2" stroke="#1e1e1e" stroke-width="1.1"/>
<line x1="438.70000000000005" y1="305.4" x2="447.5" y2="305.4" stroke="#1e1e1e" stroke-width="1.1"/>
<line x1="438.70000000000005" y1="331.2" x2="447.5" y2="331.2" stroke="#1e1e1e" stroke-width="1.1"/>
<line x1="467.6" y1="321.75" x2="467.6" y2="337" stroke="#1e1e1e" stroke-width="1.1"/>
<line x1="463.20000000000005" y1="321.75" x2="472.0" y2="321.75" stroke="#1e1e1e" stroke-width="1.1"/>
<line x1="463.20000000000005" y1="337" x2="472.0" y2="337" stroke="#1e1e1e" stroke-width="1.1"/>
<line x1="492.1" y1="317.5" x2="492.1" y2="332.5" stroke="#1e1e1e" stroke-width="1.1"/>
<line x1="487.70000000000005" y1="317.5" x2="496.5" y2="317.5" stroke="#1e1e1e" stroke-width="1.1"/>
<line x1="487.70000000000005" y1="332.5" x2="496.5" y2="332.5" stroke="#1e1e1e" stroke-width="1.1"/>
<polyline points="345.1,342 369.6,335 394.1,325.75 418.6,332 443.1,317.9 467.6,329.25 492.1,325" fill="none" stroke="#385681" stroke-width="1.5" stroke-linejoin="round"/>
<polygon points="345.1,337.1 350.0,342 345.1,346.9 340.20000000000005,342" fill="#385681"/>
<polygon points="369.6,330.1 374.5,335 369.6,339.9 364.70000000000005,335" fill="#385681"/>
<polygon points="394.1,320.85 399.0,325.75 394.1,330.65 389.20000000000005,325.75" fill="#385681"/>
<polygon points="418.6,327.1 423.5,332 418.6,336.9 413.70000000000005,332" fill="#385681"/>
<polygon points="443.1,313.0 448.0,317.9 443.1,322.79999999999995 438.20000000000005,317.9" fill="#385681"/>
<polygon points="467.6,324.35 472.5,329.25 467.6,334.15 462.70000000000005,329.25" fill="#385681"/>
<polygon points="492.1,320.1 497.0,325 492.1,329.9 487.20000000000005,325" fill="#385681"/>
<line x1="369.6" y1="346" x2="369.6" y2="352.5" stroke="#1e1e1e" stroke-width="1.1"/>
<line x1="365.20000000000005" y1="346" x2="374.0" y2="346" stroke="#1e1e1e" stroke-width="1.1"/>
<line x1="365.20000000000005" y1="352.5" x2="374.0" y2="352.5" stroke="#1e1e1e" stroke-width="1.1"/>
<line x1="394.1" y1="339.5" x2="394.1" y2="351.25" stroke="#1e1e1e" stroke-width="1.1"/>
<line x1="389.70000000000005" y1="339.5" x2="398.5" y2="339.5" stroke="#1e1e1e" stroke-width="1.1"/>
<line x1="389.70000000000005" y1="351.25" x2="398.5" y2="351.25" stroke="#1e1e1e" stroke-width="1.1"/>
<line x1="418.6" y1="345.75" x2="418.6" y2="354.25" stroke="#1e1e1e" stroke-width="1.1"/>
<line x1="414.20000000000005" y1="345.75" x2="423.0" y2="345.75" stroke="#1e1e1e" stroke-width="1.1"/>
<line x1="414.20000000000005" y1="354.25" x2="423.0" y2="354.25" stroke="#1e1e1e" stroke-width="1.1"/>
<line x1="443.1" y1="347.5" x2="443.1" y2="356.4" stroke="#1e1e1e" stroke-width="1.1"/>
<line x1="438.70000000000005" y1="347.5" x2="447.5" y2="347.5" stroke="#1e1e1e" stroke-width="1.1"/>
<line x1="438.70000000000005" y1="356.4" x2="447.5" y2="356.4" stroke="#1e1e1e" stroke-width="1.1"/>
<line x1="467.6" y1="352" x2="467.6" y2="358" stroke="#1e1e1e" stroke-width="1.1"/>
<line x1="463.20000000000005" y1="352" x2="472.0" y2="352" stroke="#1e1e1e" stroke-width="1.1"/>
<line x1="463.20000000000005" y1="358" x2="472.0" y2="358" stroke="#1e1e1e" stroke-width="1.1"/>
<line x1="492.1" y1="356.25" x2="492.1" y2="362" stroke="#1e1e1e" stroke-width="1.1"/>
<line x1="487.70000000000005" y1="356.25" x2="496.5" y2="356.25" stroke="#1e1e1e" stroke-width="1.1"/>
<line x1="487.70000000000005" y1="362" x2="496.5" y2="362" stroke="#1e1e1e" stroke-width="1.1"/>
<polyline points="345.1,352.9 369.6,349.5 394.1,345.5 418.6,350 443.1,351.8 467.6,355 492.1,359.25" fill="none" stroke="#a01f36" stroke-width="1.5" stroke-linejoin="round"/>
<polygon points="345.1,348.59999999999997 349.40000000000003,352.9 345.1,357.2 340.8,352.9" fill="#fff" stroke="#a01f36" stroke-width="1.2"/>
<polygon points="369.6,345.2 373.90000000000003,349.5 369.6,353.8 365.3,349.5" fill="#fff" stroke="#a01f36" stroke-width="1.2"/>
<polygon points="394.1,341.2 398.40000000000003,345.5 394.1,349.8 389.8,345.5" fill="#fff" stroke="#a01f36" stroke-width="1.2"/>
<polygon points="418.6,345.7 422.90000000000003,350 418.6,354.3 414.3,350" fill="#fff" stroke="#a01f36" stroke-width="1.2"/>
<polygon points="443.1,347.5 447.40000000000003,351.8 443.1,356.1 438.8,351.8" fill="#fff" stroke="#a01f36" stroke-width="1.2"/>
<polygon points="467.6,350.7 471.90000000000003,355 467.6,359.3 463.3,355" fill="#fff" stroke="#a01f36" stroke-width="1.2"/>
<polygon points="492.1,354.95 496.40000000000003,359.25 492.1,363.55 487.8,359.25" fill="#fff" stroke="#a01f36" stroke-width="1.2"/>
<line x1="446" y1="245.2" x2="462" y2="245.2" stroke="#a01f36" stroke-width="1.3"/>
<polygon points="454.0,240.89999999999998 458.3,245.2 454.0,249.5 449.7,245.2" fill="#fff" stroke="#a01f36" stroke-width="1.2"/>
<line x1="446" y1="259" x2="462" y2="259" stroke="#385681" stroke-width="1.3"/>
<polygon points="454.0,253.9 459.1,259 454.0,264.1 448.9,259" fill="#385681"/>
<text x="465.11" y="247.90" font-size="8.73" textLength="42.81" lengthAdjust="spacingAndGlyphs">HbAA n=10</text>
<text x="465.15" y="261.70" font-size="8.73" textLength="40.75" lengthAdjust="spacingAndGlyphs">HbSS n=12</text>
<text x="9.45" y="432.70" font-size="14.40" textLength="6.89" lengthAdjust="spacingAndGlyphs">E</text>
<line x1="63.6" y1="442" x2="63.6" y2="570.7" stroke="#000" stroke-width="1.2"/>
<line x1="63.0" y1="570.1" x2="251.75" y2="570.1" stroke="#000" stroke-width="1.3"/>
<line x1="59.6" y1="444.5" x2="63.6" y2="444.5" stroke="#222" stroke-width="0.9"/>
<text x="39.85" y="448.20" font-size="9.75" textLength="16.32" lengthAdjust="spacingAndGlyphs">0.16</text>
<line x1="59.6" y1="475.75" x2="63.6" y2="475.75" stroke="#222" stroke-width="0.9"/>
<text x="39.91" y="479.45" font-size="9.75" textLength="16.32" lengthAdjust="spacingAndGlyphs">0.12</text>
<line x1="59.6" y1="507.5" x2="63.6" y2="507.5" stroke="#222" stroke-width="0.9"/>
<text x="39.85" y="511.20" font-size="9.75" textLength="16.32" lengthAdjust="spacingAndGlyphs">0.08</text>
<line x1="59.6" y1="538.75" x2="63.6" y2="538.75" stroke="#222" stroke-width="0.9"/>
<text x="39.72" y="542.45" font-size="9.75" textLength="16.32" lengthAdjust="spacingAndGlyphs">0.04</text>
<line x1="59.6" y1="570.1" x2="63.6" y2="570.1" stroke="#222" stroke-width="0.9"/>
<text x="39.81" y="573.80" font-size="9.75" textLength="16.32" lengthAdjust="spacingAndGlyphs">0.00</text>
<line x1="83.6" y1="570.1" x2="83.6" y2="573.9" stroke="#222" stroke-width="0.9"/>
<text x="81.24" y="585.80" font-size="9.89" textLength="4.73" lengthAdjust="spacingAndGlyphs">8</text>
<line x1="108.2" y1="570.1" x2="108.2" y2="573.9" stroke="#222" stroke-width="0.9"/>
<text x="103.37" y="585.80" font-size="9.89" textLength="9.46" lengthAdjust="spacingAndGlyphs">12</text>
<line x1="132.9" y1="570.1" x2="132.9" y2="573.9" stroke="#222" stroke-width="0.9"/>
<text x="128.04" y="585.80" font-size="9.89" textLength="9.46" lengthAdjust="spacingAndGlyphs">16</text>
<line x1="157.4" y1="570.1" x2="157.4" y2="573.9" stroke="#222" stroke-width="0.9"/>
<text x="152.63" y="585.80" font-size="9.89" textLength="9.46" lengthAdjust="spacingAndGlyphs">20</text>
<line x1="182" y1="570.1" x2="182" y2="573.9" stroke="#222" stroke-width="0.9"/>
<text x="177.18" y="585.80" font-size="9.89" textLength="9.46" lengthAdjust="spacingAndGlyphs">24</text>
<line x1="206.4" y1="570.1" x2="206.4" y2="573.9" stroke="#222" stroke-width="0.9"/>
<text x="201.65" y="585.80" font-size="9.89" textLength="9.46" lengthAdjust="spacingAndGlyphs">28</text>
<line x1="231.1" y1="570.1" x2="231.1" y2="573.9" stroke="#222" stroke-width="0.9"/>
<text x="226.43" y="585.80" font-size="9.89" textLength="9.46" lengthAdjust="spacingAndGlyphs">32</text>
<text x="128.47" y="601.20" font-size="11.20" textLength="56.05" lengthAdjust="spacingAndGlyphs">Age [weeks]</text>
<text x="0" y="0" transform="translate(31.30,567.88) rotate(-90)" font-size="11.78" textLength="123.93" lengthAdjust="spacingAndGlyphs">Plasma creatinine (mg/dL)</text>
<line x1="83.6" y1="503.5" x2="83.6" y2="512" stroke="#1e1e1e" stroke-width="1.1"/>
<line x1="80.44999999999999" y1="503.5" x2="86.75" y2="503.5" stroke="#1e1e1e" stroke-width="1.1"/>
<line x1="80.44999999999999" y1="512" x2="86.75" y2="512" stroke="#1e1e1e" stroke-width="1.1"/>
<line x1="108.2" y1="488.7" x2="108.2" y2="498" stroke="#1e1e1e" stroke-width="1.1"/>
<line x1="105.05" y1="488.7" x2="111.35000000000001" y2="488.7" stroke="#1e1e1e" stroke-width="1.1"/>
<line x1="105.05" y1="498" x2="111.35000000000001" y2="498" stroke="#1e1e1e" stroke-width="1.1"/>
<line x1="157.4" y1="486.6" x2="157.4" y2="493.8" stroke="#1e1e1e" stroke-width="1.1"/>
<line x1="154.25" y1="486.6" x2="160.55" y2="486.6" stroke="#1e1e1e" stroke-width="1.1"/>
<line x1="154.25" y1="493.8" x2="160.55" y2="493.8" stroke="#1e1e1e" stroke-width="1.1"/>
<line x1="231.1" y1="482.3" x2="231.1" y2="492.7" stroke="#1e1e1e" stroke-width="1.1"/>
<line x1="227.95" y1="482.3" x2="234.25" y2="482.3" stroke="#1e1e1e" stroke-width="1.1"/>
<line x1="227.95" y1="492.7" x2="234.25" y2="492.7" stroke="#1e1e1e" stroke-width="1.1"/>
<polyline points="83.6,511.3 108.2,497 157.4,490.2 231.1,487.3" fill="none" stroke="#385681" stroke-width="1.5" stroke-linejoin="round"/>
<rect x="80.3" y="507.90000000000003" width="6.6" height="6.8" fill="#385681"/>
<rect x="104.9" y="493.6" width="6.6" height="6.8" fill="#385681"/>
<rect x="154.1" y="486.8" width="6.6" height="6.8" fill="#385681"/>
<rect x="227.79999999999998" y="483.90000000000003" width="6.6" height="6.8" fill="#385681"/>
<line x1="83.6" y1="511" x2="83.6" y2="518.3" stroke="#1e1e1e" stroke-width="1.1"/>
<line x1="80.44999999999999" y1="511" x2="86.75" y2="511" stroke="#1e1e1e" stroke-width="1.1"/>
<line x1="80.44999999999999" y1="518.3" x2="86.75" y2="518.3" stroke="#1e1e1e" stroke-width="1.1"/>
<line x1="108.2" y1="498" x2="108.2" y2="504" stroke="#1e1e1e" stroke-width="1.1"/>
<line x1="105.05" y1="498" x2="111.35000000000001" y2="498" stroke="#1e1e1e" stroke-width="1.1"/>
<line x1="105.05" y1="504" x2="111.35000000000001" y2="504" stroke="#1e1e1e" stroke-width="1.1"/>
<line x1="157.4" y1="495.5" x2="157.4" y2="501.5" stroke="#1e1e1e" stroke-width="1.1"/>
<line x1="154.25" y1="495.5" x2="160.55" y2="495.5" stroke="#1e1e1e" stroke-width="1.1"/>
<line x1="154.25" y1="501.5" x2="160.55" y2="501.5" stroke="#1e1e1e" stroke-width="1.1"/>
<line x1="231.1" y1="507.5" x2="231.1" y2="514" stroke="#1e1e1e" stroke-width="1.1"/>
<line x1="227.95" y1="507.5" x2="234.25" y2="507.5" stroke="#1e1e1e" stroke-width="1.1"/>
<line x1="227.95" y1="514" x2="234.25" y2="514" stroke="#1e1e1e" stroke-width="1.1"/>
<polyline points="83.6,514.5 108.2,501.4 157.4,498.5 231.1,510.75" fill="none" stroke="#a01f36" stroke-width="1.5" stroke-linejoin="round"/>
<rect x="80.55" y="511.45" width="6.1" height="6.1" fill="#fff" stroke="#a01f36" stroke-width="1.3"/>
<rect x="105.15" y="498.34999999999997" width="6.1" height="6.1" fill="#fff" stroke="#a01f36" stroke-width="1.3"/>
<rect x="154.35" y="495.45" width="6.1" height="6.1" fill="#fff" stroke="#a01f36" stroke-width="1.3"/>
<rect x="228.04999999999998" y="507.7" width="6.1" height="6.1" fill="#fff" stroke="#a01f36" stroke-width="1.3"/>
<text x="231.1" y="480.55" font-size="7" text-anchor="middle">*</text>
<line x1="163" y1="446.1" x2="178" y2="446.1" stroke="#a01f36" stroke-width="1.3"/>
<rect x="167.8" y="443.40000000000003" width="5.4" height="5.4" fill="#fff" stroke="#a01f36" stroke-width="1.3"/>
<line x1="163" y1="459" x2="178" y2="459" stroke="#385681" stroke-width="1.3"/>
<rect x="167.7" y="456.2" width="5.6" height="5.6" fill="#385681"/>
<text x="181.30" y="448.80" font-size="8.73" textLength="38.55" lengthAdjust="spacingAndGlyphs">HbAA n=5</text>
<text x="181.34" y="461.60" font-size="8.73" textLength="43.91" lengthAdjust="spacingAndGlyphs">HbSS n=5-6</text>
<text x="270.82" y="432.70" font-size="14.40" textLength="6.52" lengthAdjust="spacingAndGlyphs">F</text>
<line x1="324.6" y1="442" x2="324.6" y2="570.8000000000001" stroke="#000" stroke-width="1.2"/>
<line x1="324.0" y1="570.2" x2="511.75" y2="570.2" stroke="#000" stroke-width="1.3"/>
<line x1="320.6" y1="444.5" x2="324.6" y2="444.5" stroke="#222" stroke-width="0.9"/>
<text x="301.95" y="448.20" font-size="9.75" textLength="16.32" lengthAdjust="spacingAndGlyphs">0.16</text>
<line x1="320.6" y1="475.75" x2="324.6" y2="475.75" stroke="#222" stroke-width="0.9"/>
<text x="302.01" y="479.45" font-size="9.75" textLength="16.32" lengthAdjust="spacingAndGlyphs">0.12</text>
<line x1="320.6" y1="507.5" x2="324.6" y2="507.5" stroke="#222" stroke-width="0.9"/>
<text x="301.95" y="511.20" font-size="9.75" textLength="16.32" lengthAdjust="spacingAndGlyphs">0.08</text>
<line x1="320.6" y1="538.75" x2="324.6" y2="538.75" stroke="#222" stroke-width="0.9"/>
<text x="301.82" y="542.45" font-size="9.75" textLength="16.32" lengthAdjust="spacingAndGlyphs">0.04</text>
<line x1="320.6" y1="570.2" x2="324.6" y2="570.2" stroke="#222" stroke-width="0.9"/>
<text x="301.91" y="573.90" font-size="9.75" textLength="16.32" lengthAdjust="spacingAndGlyphs">0.00</text>
<line x1="345.1" y1="570.2" x2="345.1" y2="574.0" stroke="#222" stroke-width="0.9"/>
<text x="342.74" y="585.80" font-size="9.89" textLength="4.73" lengthAdjust="spacingAndGlyphs">8</text>
<line x1="369.6" y1="570.2" x2="369.6" y2="574.0" stroke="#222" stroke-width="0.9"/>
<text x="364.77" y="585.80" font-size="9.89" textLength="9.46" lengthAdjust="spacingAndGlyphs">12</text>
<line x1="394.1" y1="570.2" x2="394.1" y2="574.0" stroke="#222" stroke-width="0.9"/>
<text x="389.24" y="585.80" font-size="9.89" textLength="9.46" lengthAdjust="spacingAndGlyphs">16</text>
<line x1="418.6" y1="570.2" x2="418.6" y2="574.0" stroke="#222" stroke-width="0.9"/>
<text x="413.83" y="585.80" font-size="9.89" textLength="9.46" lengthAdjust="spacingAndGlyphs">20</text>
<line x1="443.1" y1="570.2" x2="443.1" y2="574.0" stroke="#222" stroke-width="0.9"/>
<text x="438.28" y="585.80" font-size="9.89" textLength="9.46" lengthAdjust="spacingAndGlyphs">24</text>
<line x1="467.6" y1="570.2" x2="467.6" y2="574.0" stroke="#222" stroke-width="0.9"/>
<text x="462.85" y="585.80" font-size="9.89" textLength="9.46" lengthAdjust="spacingAndGlyphs">28</text>
<line x1="492.1" y1="570.2" x2="492.1" y2="574.0" stroke="#222" stroke-width="0.9"/>
<text x="487.43" y="585.80" font-size="9.89" textLength="9.46" lengthAdjust="spacingAndGlyphs">32</text>
<text x="389.97" y="601.20" font-size="11.20" textLength="57.26" lengthAdjust="spacingAndGlyphs">Age [weeks]</text>
<text x="0" y="0" transform="translate(291.80,567.68) rotate(-90)" font-size="11.20" textLength="123.93" lengthAdjust="spacingAndGlyphs">Plasma creatinine (mg/dL)</text>
<line x1="345.1" y1="465.5" x2="345.1" y2="475" stroke="#1e1e1e" stroke-width="1.1"/>
<line x1="340.70000000000005" y1="465.5" x2="349.5" y2="465.5" stroke="#1e1e1e" stroke-width="1.1"/>
<line x1="340.70000000000005" y1="475" x2="349.5" y2="475" stroke="#1e1e1e" stroke-width="1.1"/>
<line x1="369.6" y1="479" x2="369.6" y2="486.3" stroke="#1e1e1e" stroke-width="1.1"/>
<line x1="365.20000000000005" y1="479" x2="374.0" y2="479" stroke="#1e1e1e" stroke-width="1.1"/>
<line x1="365.20000000000005" y1="486.3" x2="374.0" y2="486.3" stroke="#1e1e1e" stroke-width="1.1"/>
<line x1="492.1" y1="462.3" x2="492.1" y2="474.8" stroke="#1e1e1e" stroke-width="1.1"/>
<line x1="487.70000000000005" y1="462.3" x2="496.5" y2="462.3" stroke="#1e1e1e" stroke-width="1.1"/>
<line x1="487.70000000000005" y1="474.8" x2="496.5" y2="474.8" stroke="#1e1e1e" stroke-width="1.1"/>
<polyline points="345.1,470 369.6,479.5 418.6,469.25 492.1,469.5" fill="none" stroke="#385681" stroke-width="1.5" stroke-linejoin="round"/>
<polygon points="345.1,465.1 350.0,470 345.1,474.9 340.20000000000005,470" fill="#385681"/>
<polygon points="369.6,474.6 374.5,479.5 369.6,484.4 364.70000000000005,479.5" fill="#385681"/>
<polygon points="418.6,464.35 423.5,469.25 418.6,474.15 413.70000000000005,469.25" fill="#385681"/>
<polygon points="492.1,464.6 497.0,469.5 492.1,474.4 487.20000000000005,469.5" fill="#385681"/>
<line x1="345.1" y1="472.5" x2="345.1" y2="485.5" stroke="#1e1e1e" stroke-width="1.1"/>
<line x1="340.70000000000005" y1="472.5" x2="349.5" y2="472.5" stroke="#1e1e1e" stroke-width="1.1"/>
<line x1="340.70000000000005" y1="485.5" x2="349.5" y2="485.5" stroke="#1e1e1e" stroke-width="1.1"/>
<line x1="369.6" y1="469.2" x2="369.6" y2="473.3" stroke="#1e1e1e" stroke-width="1.1"/>
<line x1="365.20000000000005" y1="469.2" x2="374.0" y2="469.2" stroke="#1e1e1e" stroke-width="1.1"/>
<line x1="365.20000000000005" y1="473.3" x2="374.0" y2="473.3" stroke="#1e1e1e" stroke-width="1.1"/>
<line x1="418.6" y1="477.7" x2="418.6" y2="486.7" stroke="#1e1e1e" stroke-width="1.1"/>
<line x1="414.20000000000005" y1="477.7" x2="423.0" y2="477.7" stroke="#1e1e1e" stroke-width="1.1"/>
<line x1="414.20000000000005" y1="486.7" x2="423.0" y2="486.7" stroke="#1e1e1e" stroke-width="1.1"/>
<line x1="492.1" y1="477.1" x2="492.1" y2="490.6" stroke="#1e1e1e" stroke-width="1.1"/>
<line x1="487.70000000000005" y1="477.1" x2="496.5" y2="477.1" stroke="#1e1e1e" stroke-width="1.1"/>
<line x1="487.70000000000005" y1="490.6" x2="496.5" y2="490.6" stroke="#1e1e1e" stroke-width="1.1"/>
<polyline points="345.1,479.5 369.6,477.5 418.6,482.5 492.1,482.5" fill="none" stroke="#a01f36" stroke-width="1.5" stroke-linejoin="round"/>
<polygon points="345.1,475.2 349.40000000000003,479.5 345.1,483.8 340.8,479.5" fill="#fff" stroke="#a01f36" stroke-width="1.2"/>
<polygon points="369.6,473.2 373.90000000000003,477.5 369.6,481.8 365.3,477.5" fill="#fff" stroke="#a01f36" stroke-width="1.2"/>
<polygon points="418.6,478.2 422.90000000000003,482.5 418.6,486.8 414.3,482.5" fill="#fff" stroke="#a01f36" stroke-width="1.2"/>
<polygon points="492.1,478.2 496.40000000000003,482.5 492.1,486.8 487.8,482.5" fill="#fff" stroke="#a01f36" stroke-width="1.2"/>
<line x1="444.5" y1="532.4" x2="459.5" y2="532.4" stroke="#a01f36" stroke-width="1.3"/>
<polygon points="452.0,528.1 456.3,532.4 452.0,536.6999999999999 447.7,532.4" fill="#fff" stroke="#a01f36" stroke-width="1.2"/>
<line x1="444.5" y1="546.2" x2="459.5" y2="546.2" stroke="#385681" stroke-width="1.3"/>
<polygon points="452.0,541.1 457.1,546.2 452.0,551.3000000000001 446.9,546.2" fill="#385681"/>
<text x="463.00" y="535.10" font-size="8.73" textLength="46.27" lengthAdjust="spacingAndGlyphs">HbAA n=5-6</text>
<text x="463.04" y="548.90" font-size="8.73" textLength="43.97" lengthAdjust="spacingAndGlyphs">HbSS n=6-7</text>
</svg>
<div class="fr"></div>
</body></html>
